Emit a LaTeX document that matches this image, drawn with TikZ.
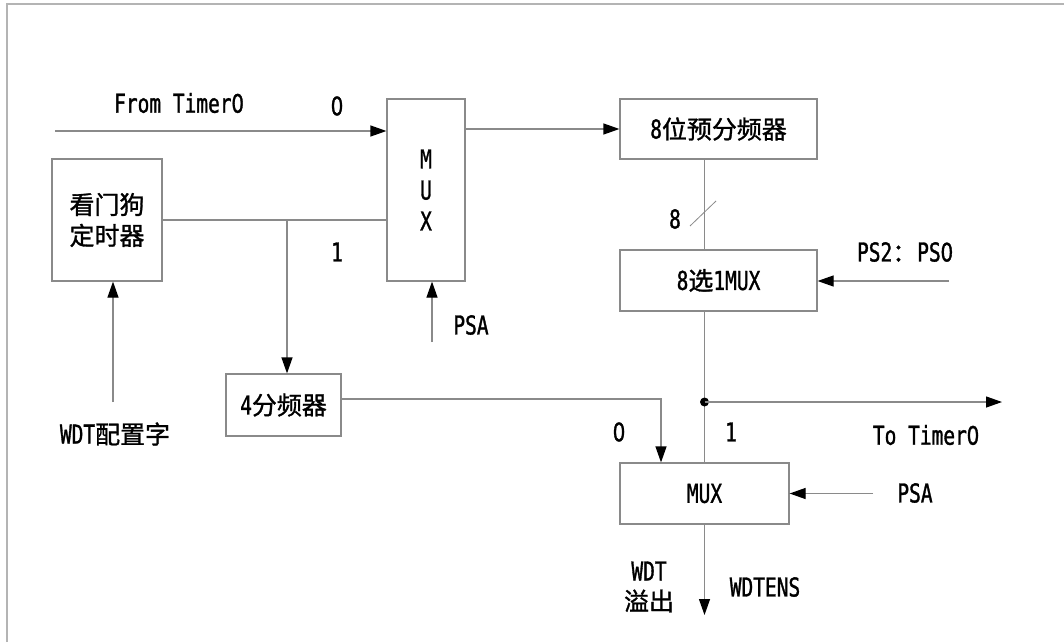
\documentclass[tikz,border=0pt]{standalone}
\usepackage{fontspec}
\setmainfont{DejaVu Sans Mono}[FakeStretch=0.75,FakeBold=1.2]
\newfontfamily\cjk{Noto Sans CJK SC}[FakeBold=1.2,Scale=0.96]
\newfontfamily\zfont{Noto Sans CJK SC}[FakeBold=1.2,Scale=1.0,FakeStretch=0.85]
\newcommand{\zr}{{\zfont 0}}
\usetikzlibrary{arrows.meta}
\definecolor{linegray}{HTML}{8A8A8A}
\definecolor{framegray}{HTML}{B4B4B4}
\begin{document}
\begin{tikzpicture}[x=1pt,y=-1pt]
\tikzset{
  blk/.style={draw=linegray, line width=1.2pt, inner sep=0pt, font=\fontsize{26}{31}\selectfont, align=center},
  lbl/.style={inner sep=0pt, font=\fontsize{26}{30}\selectfont, align=center},
  wire/.style={draw=linegray, line width=1.2pt},
  arr/.style={wire, -{Triangle[length=16pt,width=11pt,color=black]}},
}
\useasboundingbox (0,0) rectangle (1064,642);
\fill[white] (0,0) rectangle (1064,642);
\draw[framegray, line width=2pt] (6.5,642) -- (6.5,4) -- (1064,4);

% blocks
\node[blk, minimum width=78pt, minimum height=182pt] (mux1) at (426,190) {M\\U\\X};
\node[blk, minimum width=110pt, minimum height=122pt] (wdt) at (107,220) {{\cjk 看门狗}\\{\cjk 定时器}};
\node[blk, minimum width=197pt, minimum height=60pt] (pre) at (718.5,129) {8{\cjk 位预分频器}};
\node[blk, minimum width=197pt, minimum height=61pt] (sel) at (718.5,280.5) {8{\cjk 选}1MUX};
\node[blk, minimum width=115pt, minimum height=62pt] (div4) at (283.5,405) {4{\cjk 分频器}};
\node[blk, minimum width=169pt, minimum height=61pt] (mux2) at (704.5,493.5) {MUX};

% labels
\node[lbl] (lfrom) at (179,103) {From Timer\zr};
\node[lbl] (lzero1) at (337,106) {\zr};
\node[lbl] (lone1) at (337,252) {1};
\node[lbl] (lpsa1) at (471,325) {PSA};
\node[lbl] (lcfg) at (115,434) {WDT{\cjk 配置字}};
\node[lbl] (leight) at (675,219) {8};
\node[lbl] (lps) at (905,252) {PS2{\cjk ：}PS\zr};
\node[lbl] (lzero2) at (619,432) {\zr};
\node[lbl] (lone2) at (731,432) {1};
\node[lbl] (lto) at (926,435) {To Timer\zr};
\node[lbl] (lpsa2) at (915,493) {PSA};
\node[lbl] (lov) at (649,587) {WDT\\{\cjk 溢出}};
\node[lbl] (lens) at (765,587) {WDTENS};

% coordinates
\coordinate (inFrom) at (55,131);
\coordinate (br) at (287,220);
\coordinate (cfg) at (113,402);
\coordinate (psa1) at (432,342);
\coordinate (ps) at (949,281);
\coordinate (jn) at (704.5,402);
\coordinate (toT) at (1002,402);
\coordinate (c0) at (661,399);
\coordinate (psa2) at (873,493.5);
\coordinate (out) at (704.5,615);
\coordinate (slA) at (690,226);
\coordinate (slB) at (716,201);

% connectors
\draw[arr] (inFrom) -- (inFrom -| mux1.west);
\draw[arr] (mux1.east |- pre.west) -- (pre.west);
\draw[wire] (wdt.east) -- (wdt.east -| mux1.west);
\draw[arr] (br) -- (br |- div4.north);
\draw[arr] (cfg) -- (cfg |- wdt.south);
\draw[arr] (psa1) -- (psa1 |- mux1.south);
\draw[wire] (pre.south -| mux2.north) -- (sel.north -| mux2.north);
\draw[wire, line width=0.8pt] (slA) -- (slB);
\draw[arr] (ps) -- (ps -| sel.east);
\draw[wire] (sel.south -| mux2.north) -- (mux2.north);
\fill[black] (jn) circle (4.5);
\draw[arr] (jn) -- (toT);
\draw[arr] (div4.east |- c0) -- (c0) -- (c0 |- mux2.north);
\draw[arr] (psa2) -- (psa2 -| mux2.east);
\draw[arr] (mux2.south) -- (out);
\end{tikzpicture}
\end{document}
